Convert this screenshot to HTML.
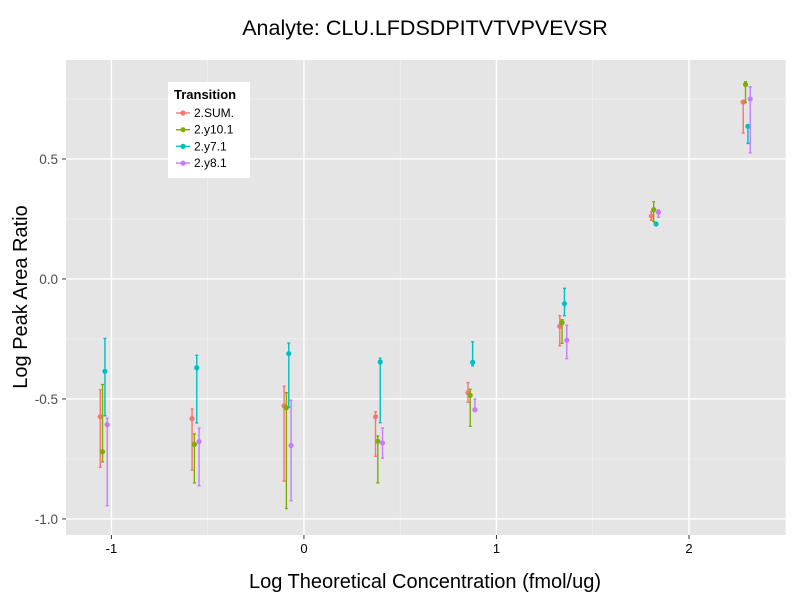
<!DOCTYPE html>
<html><head><meta charset="utf-8"><style>
body{margin:0;background:#fff;font-family:"Liberation Sans",sans-serif}
</style></head><body>
<svg width="800" height="600" xmlns="http://www.w3.org/2000/svg" id="chart" font-family="Liberation Sans, sans-serif">
<rect width="800" height="600" fill="#fff"/>
<text x="425" y="35" font-size="21.5" text-anchor="middle" fill="#000">Analyte: CLU.LFDSDPITVTVPVEVSR</text>
<g id="panel"></g>
<text x="425" y="588" font-size="20" text-anchor="middle">Log Theoretical Concentration (fmol/ug)</text>
<text transform="translate(27,297) rotate(-90)" font-size="20" text-anchor="middle">Log Peak Area Ratio</text>
<g>
<rect x="168" y="82" width="82" height="96" fill="#fff"/>
<text x="174" y="99" font-size="13" font-weight="bold">Transition</text>
<g id="legend-items"></g>
</g>
</svg>
<script>
const xCenters=[-1.04,-0.563,-0.085,0.39,0.87,1.347,1.823,2.30];
const seriesNames=["2.SUM.","2.y10.1","2.y7.1","2.y8.1"];
const colors=["#F8766D","#7CAE00","#00BFC4","#C77CFF"];
const sumVals=[-0.574,-0.582,-0.529,-0.574,-0.474,-0.197,0.262,0.737];
const sumLo=[-0.785,-0.797,-0.842,-0.739,-0.514,-0.278,0.245,0.608];
const sumHi=[-0.462,-0.542,-0.447,-0.553,-0.432,-0.153,0.28,0.745];
const y10Vals=[-0.72,-0.689,-0.537,-0.676,-0.485,-0.182,0.289,0.81];
const y10Lo=[-0.762,-0.85,-0.957,-0.85,-0.614,-0.268,0.239,0.735];
const y10Hi=[-0.44,-0.646,-0.474,-0.654,-0.46,-0.17,0.322,0.822];
const y7Vals=[-0.385,-0.37,-0.311,-0.346,-0.347,-0.103,0.229,0.636];
const y7Lo=[-0.57,-0.6,-0.535,-0.599,-0.362,-0.153,0.224,0.565];
const y7Hi=[-0.248,-0.318,-0.267,-0.33,-0.262,-0.039,0.234,0.64];
const y8Vals=[-0.607,-0.678,-0.694,-0.683,-0.545,-0.255,0.278,0.75];
const y8Lo=[-0.945,-0.862,-0.924,-0.747,-0.548,-0.332,0.257,0.525];
const y8Hi=[-0.58,-0.622,-0.505,-0.621,-0.501,-0.193,0.288,0.801];
const xTicks=[-1,0,1,2];
const xTickLabels=["-1","0","1","2"];
const yTicks=[-1,-0.5,0,0.5];
const yTickLabels=["-1.0","-0.5","0.0","0.5"];
const series=[[sumVals,sumLo,sumHi],[y10Vals,y10Lo,y10Hi],[y7Vals,y7Lo,y7Hi],[y8Vals,y8Lo,y8Hi]];
const L=66,R=786,T=60,B=535;
const xMin=-1.236,xMax=2.504,yMin=-1.067,yMax=0.9125;
const sx=v=>L+(v-xMin)/(xMax-xMin)*(R-L);
const sy=v=>B-(v-yMin)/(yMax-yMin)*(B-T);
const NS="http://www.w3.org/2000/svg";
const panel=document.getElementById('panel');
function mk(tag,attrs,parent){const e=document.createElementNS(NS,tag);for(const k in attrs)e.setAttribute(k,attrs[k]);(parent||panel).appendChild(e);return e;}
let e=mk('rect',{x:L,y:T,width:R-L,height:B-T,fill:'#E5E5E5'});


for(let v=-1.5;v<=2.5;v+=1){if(v<xMin||v>xMax)continue;e=mk('line',{x1:sx(v),x2:sx(v),y1:T,y2:B,stroke:'#F2F2F2','stroke-width':0.7});

}
for(let v=-0.75;v<=0.9;v+=0.5){e=mk('line',{x1:L,x2:R,y1:sy(v),y2:sy(v),stroke:'#F2F2F2','stroke-width':0.7});

}
xTicks.forEach((v,i)=>{e=mk('line',{x1:sx(v),x2:sx(v),y1:T,y2:B,stroke:'#fff','stroke-width':1.4});


e=mk('line',{x1:sx(v),x2:sx(v),y1:B,y2:B+4,stroke:'#333'});


e=mk('text',{x:sx(v),y:B+18,'font-size':13,'text-anchor':'middle',fill:'#000'});e.textContent=xTickLabels[i];

});
yTicks.forEach((v,i)=>{e=mk('line',{x1:L,x2:R,y1:sy(v),y2:sy(v),stroke:'#fff','stroke-width':1.4});


e=mk('line',{x1:L-4,x2:L,y1:sy(v),y2:sy(v),stroke:'#333'});


e=mk('text',{x:L-8,y:sy(v)+5,'font-size':13.5,'text-anchor':'end',fill:'#4d4d4d'});e.textContent=yTickLabels[i];

});
const dodge=[-3.5,-1.2,1.2,3.5];
series.forEach((s,si)=>{const g=mk('g',{});


xCenters.forEach((xc,i)=>{const x=sx(xc)+dodge[si];const c=colors[si];
let b=mk('path',{d:`M${x},${sy(s[2][i])}V${sy(s[1][i])}M${x-1.5},${sy(s[2][i])}h3M${x-1.5},${sy(s[1][i])}h3`,stroke:c,'stroke-width':1.4,fill:'none'},g);


let p=mk('circle',{cx:x,cy:sy(s[0][i]),r:2.6,fill:c},g);

});});
const li=document.getElementById('legend-items');
seriesNames.forEach((n,i)=>{const y=113+i*16.7;
let l=mk('line',{x1:176,x2:190,y1:y,y2:y,stroke:colors[i],'stroke-width':1.4},li);


l=mk('circle',{cx:183,cy:y,r:2.6,fill:colors[i]},li);


l=mk('text',{x:194,y:y+4,'font-size':12},li);l.textContent=n;

});
</script>
</body></html>
